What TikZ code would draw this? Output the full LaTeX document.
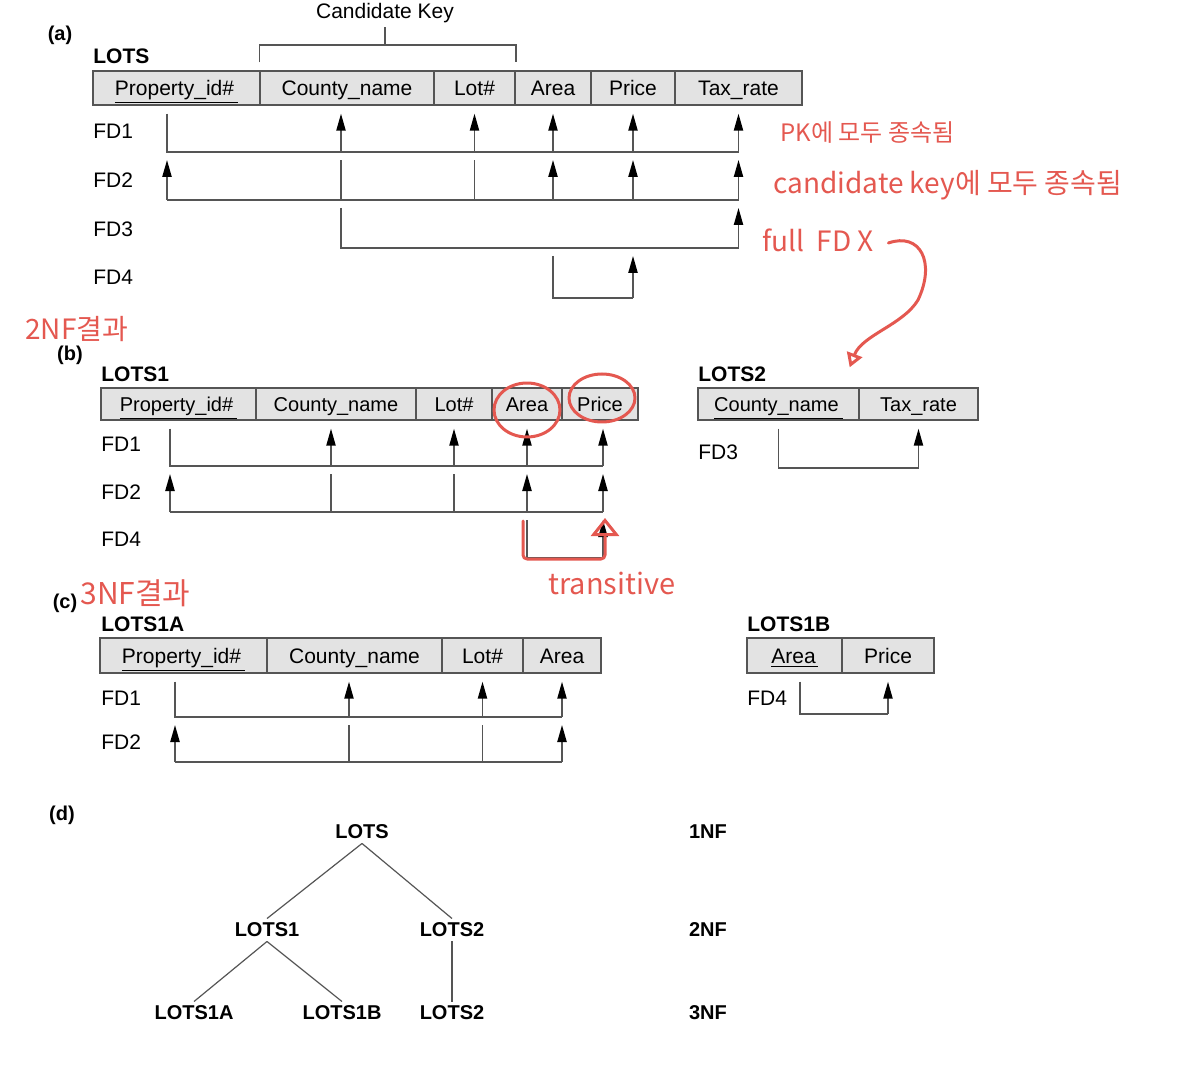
\documentclass[tikz,border=0pt]{standalone}
\usepackage{fontspec}
\setmainfont{Liberation Sans}
\newfontfamily\krfont{Noto Sans CJK KR}
\usetikzlibrary{arrows.meta,calc}
\definecolor{annotred}{RGB}{228,88,80}
\definecolor{inkgray}{RGB}{85,85,85}
\tikzset{
cellbox/.style={rectangle,draw=inkgray,fill=black!11,line width=0.7pt,inner sep=0pt,
  minimum height=17pt,text height=9.5pt,text depth=2pt,font=\fontsize{10.5}{12}\selectfont},
cw/.style={minimum width=#1*0.5pt},
ch/.style={minimum height=#1*0.5pt},
relname/.style={anchor=west,inner sep=0pt,font=\bfseries\fontsize{10.5}{12}\selectfont},
fdlabel/.style={anchor=west,inner sep=0pt,font=\fontsize{10.5}{12}\selectfont},
partlabel/.style={inner sep=0pt,font=\bfseries\fontsize{10}{12}\selectfont},
fdflat/.style={draw=inkgray,line width=0.8pt},
fdline/.style={fdflat,shorten >=4pt},
fdarr/.style={fdline,-{Triangle[length=8.5pt,width=4.6pt,color=black]}},
fdbar/.style={fdflat,shorten <=4pt},
treenode/.style={inner sep=2pt,font=\bfseries\fontsize{10}{12}\selectfont},
treeline/.style={draw=inkgray,line width=0.6pt},
annot/.style={anchor=west,inner sep=0pt,text=annotred,font=\krfont\fontsize{12}{14}\selectfont},
annotline/.style={draw=annotred,line width=1.5pt,line cap=round,line join=round}
}

\begin{document}
\begin{tikzpicture}[x=0.5pt,y=-0.5pt]
\useasboundingbox (0,0) rectangle (1183,1069);
% (a) LOTS
\node[partlabel] (pa) at (60,35) {(a)};
\node[relname] (lots) at (93,56) {LOTS};
\node[cellbox,cw=167,ch=34] (pidA) at (176.5,88) {\underline{Property\_id\#\hspace{2pt}}};
\node[cellbox,cw=174,ch=34] (cnA) at (347,88) {County\_name\hspace{5pt}};
\node[cellbox,cw=81,ch=34] (lotA) at (474.5,88) {Lot\#};
\node[cellbox,cw=76,ch=34] (areaA) at (553,88) {Area};
\node[cellbox,cw=84,ch=34] (priceA) at (633,88) {Price};
\node[cellbox,cw=127,ch=34] (taxA) at (738.5,88) {Tax\_rate\hspace{10pt}};
\node[inner sep=2pt,font=\fontsize{10.5}{12}\selectfont] (ck) at (385,13) {Candidate Key};
\coordinate (ckbar) at (385,45);
\draw[treeline,line width=0.8pt] (ck) -- (ckbar);
\draw[treeline,line width=0.8pt] ([yshift=4pt]cnA.north west) -- (cnA.north west |- ckbar) -- (lotA.north east |- ckbar) -- ([yshift=4pt]lotA.north east);
\coordinate (pidAx) at ([xshift=-4.75pt]pidA.south);
\coordinate (cnAx) at ([xshift=-3pt]cnA.south);
\coordinate (a1) at (0,152);
\coordinate (a2) at (0,200);
\coordinate (a3) at (0,248);
\coordinate (a4) at (0,298);
\node[fdlabel] (fa1) at (93,131) {FD1};
\node[fdlabel] (fa2) at (93,180) {FD2};
\node[fdlabel] (fa3) at (93,229) {FD3};
\node[fdlabel] (fa4) at (93,277) {FD4};
\draw[fdbar] (pidAx) |- (taxA |- a1);
\foreach \c in {cnAx,lotA,areaA,priceA,taxA} \draw[fdarr] (\c |- a1) -- (\c |- pidA.south);
\draw[fdarr] (pidAx |- a2) -- (pidAx |- a1);
\draw[fdflat] (pidAx |- a2) -- (taxA |- a2);
\foreach \c in {cnAx,lotA} \draw[fdline] (\c |- a2) -- (\c |- a1);
\foreach \c in {areaA,priceA,taxA} \draw[fdarr] (\c |- a2) -- (\c |- a1);
\draw[fdbar] (cnAx |- a2) |- (taxA |- a3);
\draw[fdarr] (taxA |- a3) -- (taxA |- a2);
\draw[fdbar] (areaA |- a3) |- (priceA |- a4);
\draw[fdarr] (priceA |- a4) -- (priceA |- a3);
% (b) LOTS1, LOTS2
\node[partlabel] (pb) at (70,355) {(b)};
\node[relname] (lots1) at (101,374) {LOTS1};
\node[cellbox,cw=155,ch=32,font=\fontsize{10}{12}\selectfont] (pidB) at (178.5,404) {\underline{Property\_id\#\hspace{2pt}}};
\node[cellbox,cw=160,ch=32,font=\fontsize{10}{12}\selectfont] (cnB) at (336,404) {County\_name};
\node[cellbox,cw=76,ch=32,font=\fontsize{10}{12}\selectfont] (lotB) at (454,404) {Lot\#};
\node[cellbox,cw=70,ch=32,font=\fontsize{10}{12}\selectfont] (areaB) at (527,404) {Area};
\node[cellbox,cw=76,ch=32,font=\fontsize{10}{12}\selectfont] (priceB) at (600,404) {Price};
\coordinate (pidBx) at ([xshift=-4.25pt]pidB.south);
\coordinate (cnBx) at ([xshift=-2.5pt]cnB.south);
\coordinate (priceBx) at ([xshift=1.5pt]priceB.south);
\coordinate (b1) at (0,466);
\coordinate (b2) at (0,512);
\coordinate (b4) at (0,558);
\node[fdlabel] (fb1) at (101,444) {FD1};
\node[fdlabel] (fb2) at (101,492) {FD2};
\node[fdlabel] (fb4) at (101,539) {FD4};
\draw[fdbar] (pidBx) |- (priceBx |- b1);
\foreach \c in {cnBx,lotB,areaB,priceBx} \draw[fdarr] (\c |- b1) -- (\c |- pidB.south);
\draw[fdarr] (pidBx |- b2) -- (pidBx |- b1);
\draw[fdflat] (pidBx |- b2) -- (priceBx |- b2);
\foreach \c in {cnBx,lotB} \draw[fdline] (\c |- b2) -- (\c |- b1);
\foreach \c in {areaB,priceBx} \draw[fdarr] (\c |- b2) -- (\c |- b1);
\draw[fdbar] (areaB |- b2) |- (priceBx |- b4);
\draw[fdarr] (priceBx |- b4) -- (priceBx |- b2);
\node[relname] (lots2) at (698,374) {LOTS2};
\node[cellbox,cw=161,ch=32,font=\fontsize{10}{12}\selectfont] (cnC) at (778.5,404) {\underline{County\_name\hspace{2pt}}};
\node[cellbox,cw=119,ch=32,font=\fontsize{10}{12}\selectfont] (taxC) at (918.5,404) {Tax\_rate\hspace{5pt}};
\coordinate (c3) at (0,468);
\node[fdlabel] (fc3) at (698,452) {FD3};
\draw[fdbar] (cnC.south) |- (taxC |- c3);
\draw[fdarr] (taxC |- c3) -- (taxC.south);
% (c) LOTS1A, LOTS1B
\node[partlabel] (pc) at (65,603) {(c)};
\node[relname] (lots1a) at (101,624) {LOTS1A};
\node[cellbox,cw=167,ch=35] (pidD) at (183.5,655.5) {\underline{Property\_id\#\hspace{2pt}}};
\node[cellbox,cw=175,ch=35] (cnD) at (354.5,655.5) {County\_name};
\node[cellbox,cw=81,ch=35] (lotD) at (482.5,655.5) {Lot\#};
\node[cellbox,cw=78,ch=35] (areaD) at (562,655.5) {Area};
\coordinate (pidDx) at ([xshift=-4.25pt]pidD.south);
\coordinate (cnDx) at ([xshift=-2.75pt]cnD.south);
\coordinate (d1) at (0,717);
\coordinate (d2) at (0,762);
\node[fdlabel] (fd1) at (101,698) {FD1};
\node[fdlabel] (fd2) at (101,742) {FD2};
\draw[fdbar] (pidDx) |- (areaD |- d1);
\foreach \c in {cnDx,lotD,areaD} \draw[fdarr] (\c |- d1) -- (\c |- pidD.south);
\draw[fdarr] (pidDx |- d2) -- (pidDx |- d1);
\draw[fdflat] (pidDx |- d2) -- (areaD |- d2);
\foreach \c in {cnDx,lotD} \draw[fdline] (\c |- d2) -- (\c |- d1);
\draw[fdarr] (areaD |- d2) -- (areaD |- d1);
\node[relname] (lots1b) at (747,624) {LOTS1B};
\node[cellbox,cw=95,ch=35] (areaE) at (794.5,655.5) {\underline{Area\hspace{1pt}}};
\node[cellbox,cw=92,ch=35] (priceE) at (888,655.5) {Price};
\coordinate (e4) at (0,714);
\node[fdlabel] (fe4) at (747,698) {FD4};
\draw[fdbar] ([xshift=2.75pt]areaE.south) |- (priceE |- e4);
\draw[fdarr] (priceE |- e4) -- (priceE.south);
% (d) decomposition tree
\node[partlabel] (pd) at (62,815) {(d)};
\node[treenode] (tLots) at (362,832) {LOTS};
\node[treenode] (tLots1) at (267,930) {LOTS1};
\node[treenode] (tLots2) at (452,930) {LOTS2};
\node[treenode] (tLots1a) at (194,1013) {LOTS1A};
\node[treenode] (tLots1b) at (342,1013) {LOTS1B};
\node[treenode] (tLots2b) at (452,1013) {LOTS2};
\node[treenode] (nf1) at (708,832) {1NF};
\node[treenode] (nf2) at (708,930) {2NF};
\node[treenode] (nf3) at (708,1013) {3NF};
\draw[treeline] (tLots.south) -- (tLots1.north);
\draw[treeline] (tLots.south) -- (tLots2.north);
\draw[treeline] (tLots1.south) -- (tLots1a.north);
\draw[treeline] (tLots1.south) -- (tLots1b.north);
\draw[treeline] (tLots2.south) -- (tLots2b.north);
% handwritten notes
\node[annot] (noteA) at (780,133) {PK에 모두 종속됨};
\node[annot,font=\krfont\fontsize{14}{16}\selectfont] (noteB) at (773,185) {candidate key에 모두 종속됨};
\node[annot,font=\krfont\fontsize{14}{16}\selectfont] (noteC) at (762,240) {full\ \ FD X};
\node[annot,font=\krfont\fontsize{14}{16}\selectfont] (note2nf) at (25,329) {2NF결과};
\node[annot,font=\krfont\fontsize{15}{17}\selectfont] (note3nf) at (80,593) {3NF결과};
\node[annot,font=\krfont\fontsize{14.5}{17}\selectfont] (noteT) at (548,583) {transitive};
\coordinate (fdxtip) at ([xshift=-5pt,yshift=10pt]cnC.north east);
\draw[annotline,-{Triangle[open,length=7pt,width=8pt]}] ([xshift=7pt,yshift=-1.5pt]noteC.east) .. controls (920,232) and (936,262) .. (918,300) .. controls (903,325) and (862,335) .. (fdxtip);
\draw[annotline] ([yshift=-3pt]areaB) ellipse [x radius=16.5pt,y radius=13.5pt];
\draw[annotline] ([xshift=1pt,yshift=3pt]priceB) ellipse [x radius=16.5pt,y radius=12pt];
\draw[annotline,rounded corners=2pt,-{Triangle[open,length=9pt,width=14pt]}] (523,521) -- (523,559) -- (605,559) -- (605,518);
\end{tikzpicture}
\end{document}
